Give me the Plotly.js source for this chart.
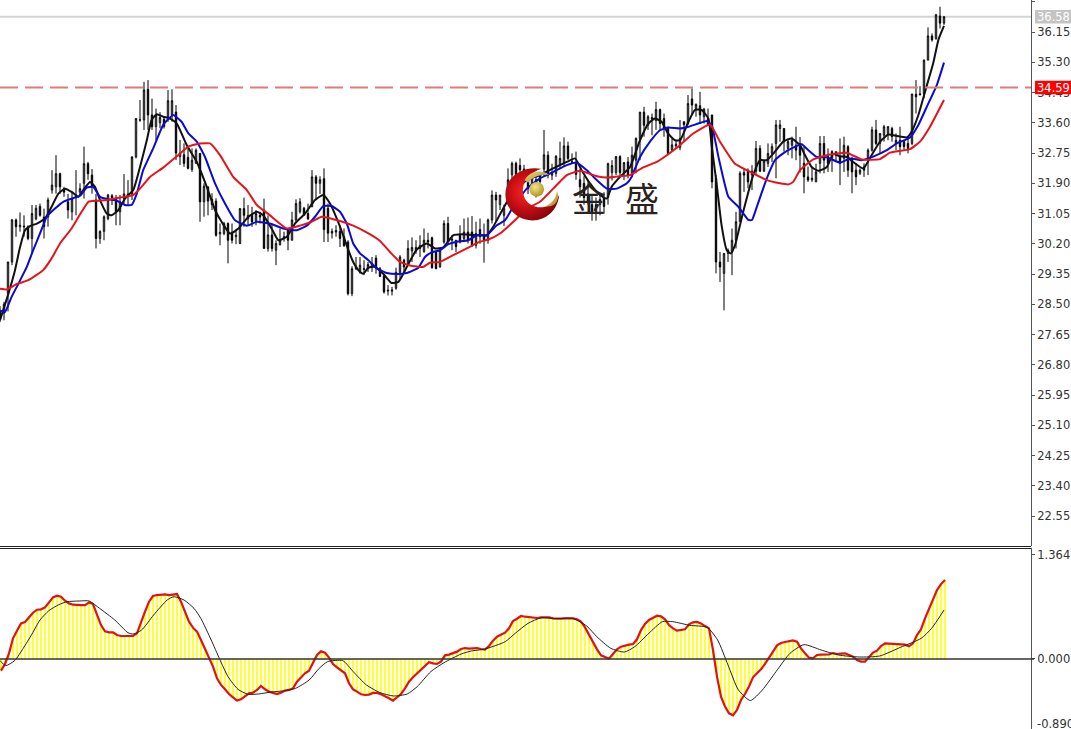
<!DOCTYPE html>
<html><head><meta charset="utf-8">
<script src="https://cdn.plot.ly/plotly-3.0.1.min.js"></script>
<style>html,body{margin:0;padding:0;background:#fff;overflow:hidden}</style>
</head><body><div id="chart" style="width:1071px;height:729px"></div>
<script>
const open=[28.3,28.25,28.8,29.69,30.87,30.68,30.7,30.68,30.35,30.9,31.25,30.95,30.95,31.71,31.8,32.17,31.75,31.38,31.1,31.55,31.65,31.9,32.45,32.13,31.43,30.35,30.55,30.91,31.55,31.47,31.1,31.47,31.55,31.6,32.64,33.68,33.68,34.54,33.82,33.49,33.6,33.7,33.77,33.82,33.9,32.65,32.7,32.63,32.29,32.46,32.74,31.38,31.8,31.45,31.4,30.48,30.49,30.77,30.49,30.4,30.21,31.19,30.9,31.0,30.85,31.0,31.15,30.07,30.45,30.02,30.17,30.4,30.6,30.3,30.87,31.1,31.2,31.05,31.24,32.08,31.9,32.03,31.2,30.5,30.53,30.55,30.4,30.25,28.8,29.5,29.4,29.48,29.5,29.55,29.8,29.5,29.3,28.9,28.87,28.95,29.4,29.74,29.6,30.0,30.02,30.07,29.98,30.3,30.37,29.97,29.55,30.25,30.77,30.3,30.3,30.44,30.35,30.53,30.53,30.16,30.6,30.45,30.3,30.87,31.57,31.3,31.0,31.6,32.14,32.46,32.4,32.3,32.05,31.75,32.0,32.1,32.3,32.69,32.13,32.18,32.4,32.46,32.95,32.5,32.45,32.0,31.9,31.6,31.3,31.05,31.3,31.5,31.5,32.2,32.2,32.65,32.2,32.5,32.18,32.55,33.16,33.9,33.53,33.7,33.66,33.97,33.72,33.44,32.83,32.95,32.9,33.63,33.58,34.27,34.0,34.08,33.77,33.72,33.82,32.04,29.69,29.37,29.93,29.97,30.3,30.82,32.2,32.24,32.13,32.24,32.88,32.24,32.46,32.74,33.02,33.44,33.44,32.88,32.97,32.97,33.02,32.46,32.08,32.0,31.94,32.46,33.02,32.65,32.6,32.69,32.65,32.6,32.93,32.6,32.27,32.18,32.36,32.55,32.83,33.4,33.02,33.25,33.3,33.44,33.02,33.11,33.07,33.02,33.02,34.4,34.38,34.41,35.36,36.04,35.97,36.6,36.4];
const high=[28.45,28.57,29.69,30.9,30.91,31.08,31.0,30.72,31.29,31.29,31.33,31.19,31.5,32.27,32.69,32.2,31.8,31.6,31.66,32.27,31.9,32.93,32.5,32.3,31.6,30.58,31.0,31.6,31.6,31.57,31.57,32.16,31.99,32.66,33.72,34.24,34.75,34.8,34.28,34.0,33.9,33.77,34.52,34.54,34.1,33.12,33.02,32.88,32.88,32.88,32.74,31.9,31.8,31.62,31.48,30.77,30.82,30.8,30.77,30.58,31.2,31.5,31.29,31.24,31.15,31.1,31.47,31.0,30.77,30.3,30.63,30.54,30.63,31.1,31.45,31.48,31.24,31.33,32.27,32.13,32.1,32.32,31.33,30.63,30.72,30.72,30.63,30.3,29.57,29.83,29.83,29.74,29.69,29.83,29.88,29.55,29.36,29.04,28.99,29.53,29.88,29.78,30.3,30.38,30.3,30.44,30.63,30.51,30.4,30.0,30.07,30.86,30.96,30.44,30.3,30.72,30.91,30.94,30.98,30.82,30.91,30.77,30.91,31.7,31.66,31.57,31.3,32.32,32.51,32.51,32.6,32.42,32.2,32.2,32.2,32.2,33.4,32.8,32.45,32.69,33.07,33.19,33.07,32.74,32.79,32.3,32.1,32.0,31.6,31.5,31.6,31.65,32.48,32.55,32.66,32.69,32.5,32.64,32.93,33.19,33.9,34.05,33.82,33.86,34.19,34.0,33.86,33.49,33.16,33.11,33.68,33.63,34.38,34.57,34.14,34.47,34.02,34.0,33.82,32.13,29.97,29.93,30.07,30.63,31.1,32.24,32.32,32.32,32.41,33.09,32.97,32.55,33.02,33.02,33.68,33.68,33.44,33.16,33.21,33.49,33.2,32.93,32.37,32.37,32.45,33.23,33.23,32.88,32.83,32.79,33.16,33.21,32.97,32.65,32.46,32.32,32.46,32.88,33.49,33.68,33.3,33.54,33.51,33.49,33.3,33.49,33.11,33.21,34.41,34.8,34.63,35.38,36.28,36.11,36.66,36.86,36.6];
const low=[28.0,28.05,28.3,29.6,30.4,30.54,30.4,30.3,29.93,30.86,30.96,30.35,30.68,31.61,31.61,31.6,31.52,30.91,30.86,31.0,31.57,31.47,32.0,31.61,30.07,30.2,30.3,30.86,31.29,30.72,30.72,31.33,31.29,31.43,32.6,33.63,33.4,33.4,33.4,33.11,33.45,33.44,33.63,33.63,32.55,32.41,32.36,32.29,32.22,32.46,30.82,30.96,31.0,31.15,30.4,30.16,30.44,29.65,30.21,30.19,30.19,30.68,30.72,30.68,30.72,30.77,30.07,29.98,29.98,29.6,30.16,30.26,30.02,30.3,30.82,31.05,31.0,30.87,31.24,31.43,31.6,30.25,30.25,30.35,30.4,30.11,30.11,28.75,28.73,29.46,29.36,29.32,29.41,29.41,29.36,29.27,28.8,28.75,28.75,28.91,29.18,29.41,29.57,29.69,29.92,29.83,29.95,30.07,29.5,29.5,29.53,30.2,30.25,30.02,29.97,30.21,30.3,30.21,30.11,30.07,30.2,29.67,30.2,30.77,30.82,31.15,30.7,31.3,31.5,31.9,32.0,31.9,31.6,31.6,31.5,31.8,32.1,32.04,31.99,32.08,32.32,32.36,32.55,32.46,32.0,31.5,31.3,31.3,30.85,30.85,31.0,31.05,31.3,31.98,32.13,32.08,31.99,32.04,32.08,32.18,32.55,33.21,33.4,33.25,33.4,33.4,33.21,32.69,32.79,32.88,32.83,33.07,33.54,33.82,33.77,33.58,33.58,33.54,31.76,29.37,29.13,28.33,29.69,29.32,30.07,30.82,31.66,31.76,31.71,32.13,32.22,32.22,32.36,32.5,32.04,33.07,32.79,32.69,32.6,32.55,32.2,31.62,31.94,31.94,31.94,32.18,32.18,32.22,32.22,32.55,31.85,32.22,32.08,31.62,31.85,32.13,32.08,32.13,32.79,32.97,32.74,33.07,33.11,33.07,32.83,32.69,32.83,32.74,32.97,33.86,34.38,34.29,35.36,35.88,35.93,36.25,36.35];
const close=[28.1,28.5,29.69,30.87,30.68,30.72,30.68,30.35,31.05,31.2,31.0,30.68,31.43,31.85,32.17,31.8,31.65,31.15,31.47,31.52,31.75,32.45,32.17,31.8,30.35,30.55,30.96,31.57,31.5,31.1,31.38,31.6,31.6,32.64,33.72,33.68,34.52,33.82,33.49,33.82,33.75,33.5,34.22,34.22,32.75,32.75,32.46,32.32,32.55,32.83,31.38,31.82,31.4,31.3,30.44,30.52,30.77,30.3,30.3,30.44,31.19,31.0,31.0,30.82,31.05,30.95,30.07,30.45,30.07,30.21,30.3,30.36,30.3,30.87,31.33,31.38,31.0,30.9,32.08,31.9,32.0,30.6,30.5,30.55,30.57,30.35,30.15,28.8,29.5,29.55,29.6,29.5,29.62,29.65,29.55,29.28,28.85,28.88,28.9,29.4,29.83,29.55,30.07,30.1,30.1,30.15,30.3,30.25,29.53,29.5,30.02,30.77,30.25,30.33,30.12,30.25,30.53,30.3,30.16,30.49,30.4,30.3,30.87,31.57,31.43,31.57,31.2,32.0,32.46,32.14,32.28,32.1,31.75,32.05,31.75,31.95,32.7,32.13,32.2,32.66,32.6,32.95,32.6,32.5,32.15,31.8,31.5,31.4,31.05,31.3,31.45,31.25,32.45,32.4,32.65,32.2,32.48,32.13,32.69,33.16,33.9,33.53,33.77,33.75,33.97,33.58,33.44,32.74,32.98,33.0,33.16,33.55,34.14,34.1,34.12,33.82,33.98,33.54,31.94,29.69,29.55,29.93,30.02,30.3,30.82,32.18,32.13,31.94,32.24,32.88,32.24,32.52,32.74,32.93,33.54,33.54,33.07,33.07,33.11,32.83,32.69,32.08,31.99,32.04,32.22,33.02,32.55,32.46,32.79,32.79,32.46,32.97,32.27,32.22,32.08,32.27,32.27,32.83,33.4,33.02,33.3,33.49,33.49,33.21,33.11,32.93,32.93,32.88,34.41,34.33,34.41,35.36,36.04,35.93,36.63,36.4,36.58];

const maFastBar=[0,2.1,3.75,5,6.25,7.5,9.2,11.25,12.9,14.6,16.25,17.9,19.6,20.8,22.5,23.75,25,26.7,27.9,29.6,31.25,33.3,35,36.7,37.9,39.2,40.8,42.5,44.2,46.7,49.2,51.7,53.75,55.4,57.5,59.6,62.1,64.2,65.8,67.9,69.6,71.7,73.75,76.25,78.75,80.8,82.5,85,87.1,88.3,89.6,90.8,92.1,93.75,95.8,97.9,99.6,101.7,104.2,106.7,108.75,110.8,113.3,115.4,120,121.7,123.3,125.8,128.3,131.7,135,138.3,141.7,143.75,145.4,147.5,150,151.7,152.9,155,157.5,160,162.1,163.75,165.4,167,168.75,170,172.1,173.75,175.4,177.1,177.9,179.2,180.4,181.7,182.7,183.75,185.8,188.3,190,191.7,193.75,195.8,197.9,200,201.25,202.9,204.6,206.7,208.3,210,211.7,213.3,215.8,217.9,220,222.1,224.2,226.7,227.9,229.6,231.25,233.3,234.6,236];
const maFast=[28.05,28.8,29.46,30.1,30.58,30.7,30.77,30.91,31.24,31.61,31.75,31.66,31.52,31.71,31.94,31.8,31.43,31.05,31.0,31.15,31.47,31.71,32.36,33.11,33.68,33.84,33.77,33.72,33.58,32.97,32.5,31.8,31.15,30.82,30.49,30.63,30.96,31.1,31.0,30.63,30.3,30.4,30.77,31.05,31.43,31.57,31.33,30.68,30.02,29.69,29.46,29.36,29.53,29.55,29.36,29.1,29.13,29.55,30.04,30.21,30.07,30.1,30.44,30.47,30.44,30.44,30.68,31.19,31.66,31.99,32.13,32.32,32.5,32.6,32.27,31.9,31.57,31.47,31.8,32.08,32.36,33.11,33.58,33.72,33.63,33.3,33.11,33.11,33.63,33.96,33.96,33.72,32.97,31.85,30.72,30.02,29.93,30.16,31.1,32.13,32.55,32.55,32.79,33.07,33.16,32.97,32.69,32.36,32.25,32.36,32.72,32.66,32.64,32.5,32.32,32.69,33.07,33.27,33.23,33.19,33.35,33.82,34.47,35.27,35.93,36.32];
const maMidBar=[0,1.25,2.9,4.6,6.7,8.3,10,11.7,13.75,15.8,17.9,20,21.7,23.3,25,27.1,29.2,31.25,32.9,34.2,35.8,38.3,40.8,43.3,45.4,47.1,49.2,51.25,53.75,56.25,58.75,61.7,64.2,67.5,70.8,74.2,76.7,78.75,80.8,82.9,85,86.7,88.3,90,92.1,94.2,96.7,99.2,101.7,104.6,106.25,107.9,110,112.1,114.2,117.1,119.2,121.7,124.2,126.25,128.3,131.7,135,138.3,141.7,144.2,146.7,149.2,151.7,154.2,156.7,157.9,160,162.5,165,167.1,170,172.1,174.6,176.7,177.9,179.6,182.1,184.6,187.1,188,189.2,191.7,193.75,195.8,197.9,200.4,202.1,204.2,206.7,210,212.5,215.4,218.3,221.7,224.2,227.5,229.6,231.7,234.2,236];
const maMid=[28.33,28.29,28.71,29.08,29.55,30.02,30.49,30.96,31.19,31.38,31.47,31.55,31.78,31.8,31.52,31.45,31.41,31.29,31.29,31.61,32.27,32.88,33.54,33.82,33.63,33.3,33.07,32.64,31.9,31.33,30.86,30.71,30.82,30.77,30.63,30.58,30.71,30.96,31.26,31.26,31.1,30.77,30.21,29.93,29.74,29.51,29.38,29.35,29.38,29.53,29.83,29.96,30.02,30.19,30.26,30.3,30.44,30.44,30.72,30.86,31.24,31.75,32.04,32.22,32.41,32.48,32.27,31.99,31.75,31.75,31.9,32.08,32.64,33.07,33.39,33.47,33.44,33.49,33.58,33.65,33.54,32.65,31.52,31.24,30.87,30.87,31.24,32.04,32.55,32.74,32.88,33.0,32.83,32.64,32.63,32.48,32.6,32.55,32.65,32.83,33.02,33.19,33.54,34.05,34.66,35.29];
const maSlowBar=[0,1.7,4.2,7.1,10.8,12.9,15,17.9,20.4,22.1,24.2,26.7,30,33.3,35,37.5,40.8,44.2,47.1,50,52.5,55,58.3,61.7,64.2,67.5,71.7,75,77.9,80.4,85,88.3,92.1,95,97.5,100,102.5,105.8,107.5,110,113.3,116.7,120,122.1,125,129.2,131.7,135,138.3,141.7,145,149.2,151.7,155,157.5,160.8,164.2,166.7,170,173.3,177.5,180,183.75,186.7,191.7,195,197.1,198.3,200,203.3,206.7,211.7,215.4,220,222.5,227.5,230,232.5,236];
const maSlow=[28.94,28.92,29.07,29.18,29.46,29.79,30.21,30.63,31.1,31.38,31.41,31.43,31.5,31.57,31.75,32.08,32.34,32.66,32.93,33.02,33.02,32.69,32.08,31.71,31.29,31.0,30.63,30.71,30.82,30.96,30.84,30.71,30.49,30.28,29.97,29.69,29.59,29.55,29.67,29.69,29.88,30.07,30.26,30.32,30.49,30.91,31.19,31.38,31.75,32.13,32.25,32.1,32.06,32.1,32.13,32.35,32.5,32.69,32.97,33.3,33.55,33.07,32.45,32.27,31.99,31.9,31.87,31.94,32.27,32.57,32.69,32.76,32.57,32.58,32.76,32.86,33.07,33.49,34.24];

const osc=[-.152,-.065,.074,.27,.37,.465,.483,.543,.604,.643,.648,.674,.735,.804,.826,.813,.761,.726,.709,.704,.704,.704,.739,.717,.574,.443,.361,.348,.348,.313,.30,.30,.30,.30,.335,.487,.617,.748,.822,.835,.843,.843,.835,.843,.848,.748,.617,.487,.409,.357,.248,.139,.022,-.10,-.252,-.339,-.396,-.457,-.50,-.543,-.526,-.483,-.448,-.439,-.404,-.352,-.396,-.426,-.439,-.457,-.439,-.413,-.404,-.383,-.296,-.239,-.187,-.152,-.048,.052,.10,.083,.017,-.065,-.109,-.143,-.187,-.317,-.396,-.426,-.461,-.47,-.465,-.443,-.443,-.461,-.483,-.513,-.543,-.504,-.457,-.383,-.296,-.239,-.187,-.135,-.091,-.043,-.057,-.065,-.035,.048,.057,.074,.096,.13,.143,.135,.139,.143,.13,.122,.17,.239,.291,.317,.343,.40,.496,.526,.561,.552,.548,.535,.535,.543,.543,.543,.53,.526,.526,.53,.53,.53,.517,.487,.413,.313,.226,.126,.048,.03,.004,.065,.126,.161,.178,.187,.196,.257,.378,.457,.509,.535,.565,.557,.517,.443,.40,.37,.374,.387,.452,.478,.483,.465,.43,.40,.117,-.23,-.491,-.622,-.709,-.735,-.665,-.535,-.457,-.361,-.239,-.187,-.135,-.065,.009,.096,.178,.209,.222,.235,.243,.226,.139,.074,.017,.009,.052,.057,.057,.061,.078,.065,.07,.074,.052,.03,-.013,-.035,-.035,.03,.083,.109,.17,.204,.2,.191,.191,.191,.187,.165,.204,.313,.387,.53,.661,.77,.90,.978,1.03];
const signalBar=[0,1.4,3.7,5.8,8,10,12.2,14.7,16.8,19.8,22.3,24.9,28.7,32,33.3,35.4,38.4,41.8,43.5,46,48.5,50.2,52.8,54.9,57,59.5,62,64.6,68,71.4,73.9,77.3,79.8,81.9,85.7,88.3,91.6,95,98.4,101.8,104.3,107.7,111,115.3,117.8,121.2,126.3,128.8,132,135.4,138.9,143.2,146.7,149.2,152.7,156.1,158.7,162.2,165.6,168.2,172.5,176.8,179.4,182,184.6,187.6,190.6,194,197.5,201,205.3,209.6,214.8,219.9,225.1,230.3,232.9,236];
const signal=[-.02,-.087,-.02,.139,.326,.509,.63,.709,.748,.757,.757,.661,.509,.343,.326,.378,.574,.77,.813,.77,.661,.53,.248,0,-.23,-.396,-.461,-.457,-.43,-.413,-.383,-.274,-.122,-.035,-.022,-.165,-.339,-.439,-.483,-.457,-.361,-.165,-.048,.065,.104,.13,.226,.335,.465,.539,.526,.53,.43,.291,.139,.091,.161,.335,.487,.487,.439,.413,.248,-.078,-.404,-.543,-.404,-.165,.074,.187,.117,.052,.026,.039,.152,.27,.40,.639];

const priceTicks=[37,36.15,35.3,34.45,33.6,32.75,31.9,31.05,30.2,29.35,28.5,27.65,26.8,25.95,25.1,24.25,23.4,22.55];
const priceTickText=["37.00","36.15","35.30","34.45","33.60","32.75","31.90","31.05","30.20","29.35","28.50","27.65","26.80","25.95","25.10","24.25","23.40","22.55"];
const oscTicks=[1.364,0];
const oscTickText=["1.364","0.000"];
const oscLowLabel="-0.890";
const bidPrice=36.58, alertPrice=34.59;

const bars=open.map((_,i)=>i);
const oscBars=osc.map((_,i)=>i+0.25);
const W=1071,H=729,plotR=1031;
const logoSvg=`<svg xmlns="http://www.w3.org/2000/svg" viewBox="0 0 64 64" width="256" height="256">
<defs><radialGradient id="r" cx="40%" cy="45%" r="62%"><stop offset="0" stop-color="#ff2a20"/><stop offset=".55" stop-color="#c40c14"/><stop offset="1" stop-color="#7c0508"/></radialGradient>
<linearGradient id="g" x1="0" y1="0" x2="1" y2="1"><stop offset="0" stop-color="#e8d488"/><stop offset="1" stop-color="#a98a20"/></linearGradient>
<radialGradient id="b" cx="40%" cy="35%" r="70%"><stop offset="0" stop-color="#f3e48a"/><stop offset="1" stop-color="#b09018"/></radialGradient></defs>
<path d="M42 2 C20 -2 1 12 1 31 C1 48 15 61 32 61 C48 61 61 49 62.5 32 C58 42 48 47 38 46 C27 44 21 36 21 26 C21 15 30 6 42 2 Z" fill="url(#r)"/>
<path d="M23 15 C28 5 42 2 51 9 C43 8 33 10 27 18 Z" fill="url(#g)"/>
<path d="M46 45 C54 42 59 36 60 27 C64 37 58 47 46 45 Z" fill="url(#g)"/>
<circle cx="36.8" cy="25.5" r="8.4" fill="url(#b)"/></svg>`;

const traces=[
 {type:'candlestick',x:bars,open:open,high:high,low:low,close:close,xaxis:'x',yaxis:'y',whiskerwidth:0,hoverinfo:'skip',
  increasing:{line:{color:'#000',width:1},fillcolor:'#fff'},decreasing:{line:{color:'#000',width:1},fillcolor:'#000'}},
 {type:'scatter',mode:'lines',x:maFastBar,y:maFast,line:{color:'#111',width:2,shape:'spline',smoothing:.5},hoverinfo:'skip'},
 {type:'scatter',mode:'lines',x:maMidBar,y:maMid,line:{color:'#0a0ad2',width:2,shape:'spline',smoothing:.4},hoverinfo:'skip'},
 {type:'scatter',mode:'lines',x:maSlowBar,y:maSlow,line:{color:'#e4141a',width:2,shape:'spline',smoothing:.4},hoverinfo:'skip'},
 {type:'bar',x:oscBars,y:osc,width:.7,marker:{color:'#ffff33',line:{width:0}},xaxis:'x',yaxis:'y2',hoverinfo:'skip'},
 {type:'scatter',mode:'lines',x:oscBars,y:osc,yaxis:'y2',line:{color:'#e01212',width:2.2},hoverinfo:'skip'},
 {type:'scatter',mode:'lines',x:signalBar,y:signal,yaxis:'y2',line:{color:'#222',width:1,shape:'spline',smoothing:.6},hoverinfo:'skip'}
];
const tickFont={family:'"DejaVu Sans",sans-serif',size:11.5,color:'#333'};
const layout={
 width:W,height:H,autosize:false,showlegend:false,paper_bgcolor:'#fff',plot_bgcolor:'#fff',
 margin:{l:0,r:W-plotR,t:0,b:0,pad:0},dragmode:false,bargap:0,boxgap:.5,
 xaxis:{range:[0,plotR/4],visible:false,rangeslider:{visible:false},fixedrange:true},
 yaxis:{domain:[(H-546)/H,1],range:[21.71,37.05],side:'right',showgrid:false,zeroline:false,showline:true,linecolor:'#555',linewidth:1,
   ticks:'outside',ticklen:3,tickcolor:'#555',tickmode:'array',tickvals:priceTicks,ticktext:priceTickText,tickfont:tickFont,fixedrange:true},
 yaxis2:{domain:[0,(H-548)/H],range:[-0.914,1.449],side:'right',anchor:'x',showgrid:false,zeroline:false,showline:true,linecolor:'#555',linewidth:1,
   ticks:'outside',ticklen:3,tickcolor:'#555',tickmode:'array',tickvals:oscTicks,ticktext:oscTickText,tickfont:tickFont,fixedrange:true},
 shapes:[
  {type:'line',xref:'paper',yref:'y',x0:0,x1:1,y0:bidPrice,y1:bidPrice,line:{color:'#d4d4d4',width:2},layer:'below'},
  {type:'line',xref:'paper',yref:'y',x0:0,x1:1,y0:alertPrice,y1:alertPrice,line:{color:'#e07b7b',width:2,dash:'18px,7px'},layer:'above'},
  {type:'line',xref:'paper',yref:'y2',x0:0,x1:1.003,y0:0,y1:0,line:{color:'#333',width:1.4},layer:'above'},
  {type:'line',xref:'paper',yref:'paper',x0:0,x1:1,y0:(H-546.5)/H,y1:(H-546.5)/H,line:{color:'#222',width:1}},
  {type:'line',xref:'paper',yref:'paper',x0:0,x1:1,y0:(H-548.5)/H,y1:(H-548.5)/H,line:{color:'#222',width:1}},
  {type:'rect',xref:'paper',yref:'y',x0:1.0039,x1:1.0388,y0:bidPrice-.19,y1:bidPrice+.19,fillcolor:'#c4c4c4',line:{width:0},layer:'above'},
  {type:'rect',xref:'paper',yref:'y',x0:1.0039,x1:1.0388,y0:alertPrice-.19,y1:alertPrice+.19,fillcolor:'#ff0000',line:{width:0},layer:'above'}
 ],
 annotations:[
  {xref:'paper',yref:'y',x:1.0052,y:bidPrice,xanchor:'left',yanchor:'middle',text:'36.58',showarrow:false,font:{family:'"DejaVu Sans",sans-serif',size:11.5,color:'#fff'},borderpad:0},
  {xref:'paper',yref:'y',x:1.0052,y:alertPrice,xanchor:'left',yanchor:'middle',text:'34.59',showarrow:false,font:{family:'"DejaVu Sans",sans-serif',size:11.5,color:'#fff'},borderpad:0},
  {xref:'paper',yref:'paper',x:1.0052,y:(H-724)/H,xanchor:'left',yanchor:'middle',text:oscLowLabel,showarrow:false,font:tickFont,borderpad:0},
  {xref:'paper',yref:'paper',x:589/plotR,y:(H-197)/H,xanchor:'center',yanchor:'middle',text:'金',showarrow:false,font:{family:'"Noto Sans CJK SC",sans-serif',size:34,color:'#2b2220'}},
  {xref:'paper',yref:'paper',x:642/plotR,y:(H-197)/H,xanchor:'center',yanchor:'middle',text:'盛',showarrow:false,font:{family:'"Noto Sans CJK SC",sans-serif',size:34,color:'#2b2220'}}
 ],
 images:[{source:'data:image/svg+xml;charset=utf-8,'+encodeURIComponent(logoSvg),xref:'paper',yref:'paper',x:504.5/plotR,y:(H-167)/H,sizex:56/plotR,sizey:56/H,xanchor:'left',yanchor:'top',sizing:'stretch',layer:'above'}]
};
Plotly.newPlot('chart',traces,layout,{staticPlot:true,displayModeBar:false});
</script></body></html>
